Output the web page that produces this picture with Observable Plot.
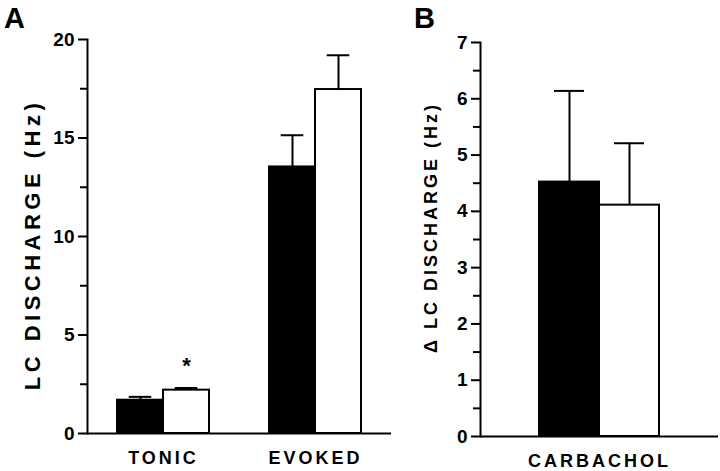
<!DOCTYPE html>
<html><head><meta charset="utf-8">
<script src="https://cdn.jsdelivr.net/npm/d3@7"></script>
<script src="https://cdn.jsdelivr.net/npm/@observablehq/plot@0.6"></script>
<style>
body{margin:0;background:#fff;}
#chart{position:relative;width:720px;height:471px;font-family:"Liberation Sans",Arial,Helvetica,sans-serif;color:#000;}
#chart svg{font-weight:bold !important;font-family:"Liberation Sans",Arial,Helvetica,sans-serif !important;}
.panel{position:absolute;top:0;}
.tag{position:absolute;font-weight:bold;font-size:29px;line-height:1;}
</style></head><body>
<div id="chart">
  <div class="tag" style="left:4px;top:4px">A</div>
  <div class="tag" style="left:414px;top:4px">B</div>
  <div class="panel" id="pA" style="left:0px"></div>
  <div class="panel" id="pB" style="left:400px"></div>
</div>
<script>
// ---- data ----
const conditions = ["control", "treated"];

const categoriesA = ["TONIC", "EVOKED"];
const meanControlA = [1.69, 13.53];
const semControlA = [0.17, 1.61];
const meanTreatedA = [2.2, 17.46];
const semTreatedA = [0.11, 1.74];
const significantA = [true, false];
const ticksA = [0, 5, 10, 15, 20];
const minorTicksA = [2.5, 7.5, 12.5, 17.5];
const yLabelA = "LC DISCHARGE (Hz)";

const categoriesB = ["CARBACHOL"];
const meanControlB = [4.52];
const semControlB = [1.62];
const meanTreatedB = [4.11];
const semTreatedB = [1.1];
const ticksB = [0, 1, 2, 3, 4, 5, 6, 7];
const minorTicksB = [0.5, 1.5, 2.5, 3.5, 4.5, 5.5, 6.5];
const yLabelB = "\u0394 LC DISCHARGE (Hz)";

function rows(cats, mc, sc, mt, st, sig) {
  const out = [];
  cats.forEach((c, i) => {
    out.push({cat: c, cond: "control", mean: mc[i], sem: sc[i], sig: false});
    out.push({cat: c, cond: "treated", mean: mt[i], sem: st[i], sig: sig ? sig[i] : false});
  });
  return out;
}
const rowsA = rows(categoriesA, meanControlA, semControlA, meanTreatedA, semTreatedA, significantA);
const rowsB = rows(categoriesB, meanControlB, semControlB, meanTreatedB, semTreatedB, null);

const font = "Liberation Sans, Arial, Helvetica, sans-serif";

function panel(opts) {
  const {data, cats, ticks, minor, label, domain, width, mL, mR, mT, mB, xPadOuter, capInset, labelOffset, labelSize, labelSpacing, labelShift} = opts;
  const p = Plot.plot({
    width, height: 471,
    marginLeft: mL, marginRight: mR, marginTop: mT, marginBottom: mB,
    style: {fontFamily: font, fontSize: "19px", fontWeight: "bold", color: "#000", background: "transparent", overflow: "visible"},
    fx: {domain: cats, paddingInner: 0, paddingOuter: 0},
    x: {domain: conditions, paddingInner: 0, paddingOuter: xPadOuter, axis: null},
    y: {domain},
    color: {domain: conditions, range: ["#000", "#fff"]},
    marks: [
      Plot.ruleX(data, {fx: "cat", x: "cond", y1: "mean", y2: d => d.mean + d.sem, stroke: "#000", strokeWidth: 2}),
      Plot.tickY(data, {fx: "cat", x: "cond", y: d => d.mean + d.sem, stroke: "#000", strokeWidth: 2, insetLeft: capInset, insetRight: capInset}),
      Plot.barY(data, {fx: "cat", x: "cond", y: "mean", fill: "cond", stroke: "#000", strokeWidth: 2}),
      Plot.text(data.filter(d => d.sig), {fx: "cat", x: "cond", y: d => d.mean + d.sem, text: () => "*", dy: -22, fontSize: 22, fontWeight: "bold", fill: "#000"}),
      Plot.ruleY([0], {stroke: "#000", strokeWidth: 2}),
      Plot.frame({anchor: "left", facetAnchor: "left", stroke: "#000", strokeWidth: 2}),
      Plot.axisY({ticks: minor, tickSize: 7, tickFormat: () => "", strokeWidth: 2, label: null}),
      Plot.axisY({ticks, tickSize: 9, tickPadding: 4, tickFormat: d => String(d), fontSize: 19, fontWeight: "bold", strokeWidth: 2,
        label, labelAnchor: "center", labelOffset, labelArrow: "none"}),
      Plot.axisFx({anchor: "bottom", tickSize: 0, tickPadding: 18, fontSize: 18, fontWeight: "bold", label: null})
    ]
  });
  const s = d3.select(p);
  s.selectAll('g[aria-label="y-axis label"]')
    .style("font-size", labelSize + "px").style("font-weight", "bold").style("letter-spacing", labelSpacing + "px")
    .attr("transform", function() { const t = this.getAttribute("transform") || ""; return `translate(0,${labelShift}) ` + t; });
  s.selectAll('g[aria-label="y-axis label"] text')
    .style("font-size", labelSize + "px").style("font-weight", "bold");
  s.selectAll('g[aria-label="fx-axis tick label"] text').style("letter-spacing", "3px");
  return p;
}

document.getElementById("pA").append(panel({
  data: rowsA, cats: categoriesA, ticks: ticksA, minor: minorTicksA, label: yLabelA, domain: [0, 20],
  width: 400, mL: 87, mR: 9, mT: 39, mB: 38, xPadOuter: 0.634, capInset: 11.7,
  labelOffset: 63, labelSize: 22, labelSpacing: 4.5, labelShift: 8
}));
document.getElementById("pB").append(panel({
  data: rowsB, cats: categoriesB, ticks: ticksB, minor: minorTicksB, label: yLabelB, domain: [0, 7],
  width: 320, mL: 80, mR: 2, mT: 42, mB: 35, xPadOuter: 0.962, capInset: 15,
  labelOffset: 56, labelSize: 18, labelSpacing: 3, labelShift: -12
}));
</script>
</body></html>
